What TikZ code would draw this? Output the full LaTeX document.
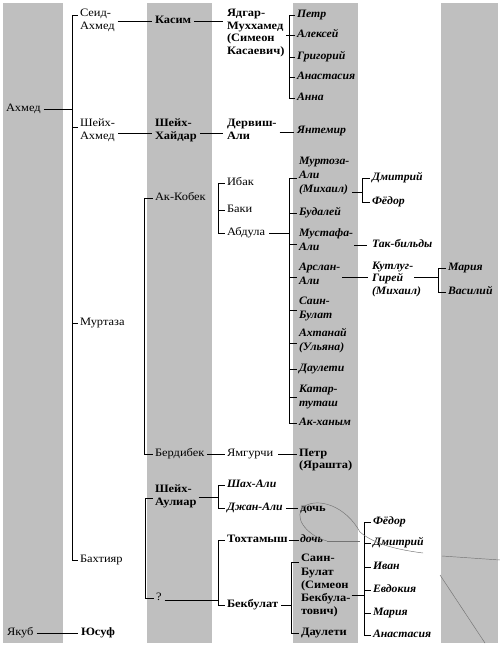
\documentclass[tikz,border=0pt]{standalone}
\usepackage{fontspec}
\setmainfont{Liberation Serif}[FakeStretch=1.1,BoldItalicFeatures={FakeStretch=1.04}]
\usetikzlibrary{calc}
\newcommand\brtick[3]{\draw[ln] ($(#1.west)+(-2.5,#3)$) -- ($(#1.west -| #2)+(0,#3)$);}
\newcommand\brpath[5]{\draw[ln] ($(#2.west)+(-2.5,#3)$) -- ($(#2.west -| #1)+(0,#3)$) -- ($(#4.west -| #1)+(0,#5)$) -- ($(#4.west)+(-2.5,#5)$);}
\begin{document}
\begin{tikzpicture}[x=1pt,y=-1pt,
  nm/.style={anchor=west, inner sep=0pt, outer sep=0pt, align=left,
    execute at begin node=\strut, execute at end node=\strut},
  rg/.style={nm, font=\fontsize{11.3}{12.6}\selectfont},
  bd/.style={nm, font=\fontsize{11.3}{12.6}\selectfont\bfseries},
  bdw/.style={nm, font=\fontsize{11.3}{13.2}\selectfont\bfseries},
  bi/.style={nm, font=\fontsize{11.3}{12.6}\selectfont\bfseries\itshape},
  biw/.style={nm, font=\fontsize{11.3}{14}\selectfont\bfseries\itshape},
  ln/.style={line width=1pt, black},
  stripe/.style={fill=black!25, draw=none},
  scanmark/.style={line width=0.45pt, black!55}]
\useasboundingbox (0,0) rectangle (500,646);
\fill[white] (0,0) rectangle (500,646);
% stripes
\fill[stripe] (3,3) rectangle (63,643);
\fill[stripe] (147,3) rectangle (212,643);
\fill[stripe] (293,3) rectangle (358,643);
\fill[stripe] (441,3) rectangle (498,643);

% column A
\node[rg] (ahm) at (6,109) {Ахмед};
\node[rg] (yak) at (7,633) {Якуб};
\node[bd] (yus) at (81,633) {Юсуф};
% column B
\node[rg] (sa) at (80,21) {Сеид-\\Ахмед};
\node[rg] (sha) at (80,131) {Шейх-\\Ахмед};
\node[rg] (mur) at (80,323) {Муртаза};
\node[rg] (bah) at (80,560) {Бахтияр};
% column C
\node[bd] (kas) at (155,21) {Касим};
\node[bd] (shh) at (155,131) {Шейх-\\Хайдар};
\node[rg] (akk) at (155,198) {Ак-Кобек};
\node[rg] (ber) at (155,454) {Бердибек};
\node[bd] (sau) at (155,497) {Шейх-\\Аулиар};
\node[rg] (q) at (156,598) {?};
% column D
\node[bd] (yad) at (227,33.5) {Ядгар-\\Муххамед\\(Симеон\\Касаевич)};
\node[bd] (der) at (227,131) {Дервиш-\\Али};
\node[rg] (iba) at (227,183) {Ибак};
\node[rg] (bak) at (227,210) {Баки};
\node[rg] (abd) at (227,233) {Абдула};
\node[rg] (yam) at (227,454) {Ямгурчи};
\node[bi] (shah) at (227,485) {Шах-Али};
\node[bi] (dja) at (227,508) {Джан-Али};
\node[bd] (tox) at (227,540) {Тохтамыш};
\node[bd] (bek) at (227,605) {Бекбулат};
% column E
\node[bi] (petr) at (297,15) {Петр};
\node[bi] (alek) at (297,35) {Алексей};
\node[bi] (grig) at (297,57) {Григорий};
\node[bi] (anas) at (297,77) {Анастасия};
\node[bi] (anna) at (297,98) {Анна};
\node[bi] (yan) at (297,131) {Янтемир};
\node[biw] (mura) at (299,177) {Муртоза-\\Али\\(Михаил)};
\node[bi] (bud) at (299,213) {Будалей};
\node[biw] (mus) at (299,242) {Мустафа-\\Али};
\node[biw] (ars) at (299,276) {Арслан-\\Али};
\node[biw] (sai) at (299,310) {Саин-\\Булат};
\node[biw] (axt) at (299,342) {Ахтанай\\(Ульяна)};
\node[bi] (dau) at (299,369) {Даулети};
\node[biw] (kat) at (299,398) {Катар-\\туташ};
\node[bi] (akh) at (299,423) {Ак-ханым};
\node[bd] (pya) at (299,460.5) {Петр\\(Ярашта)};
\node[bd] (doch1) at (300,509) {дочь};
\node[bi] (doch2) at (300,540) {дочь};
\node[bdw] (sbu) at (301,586.5) {Саин-\\Булат\\(Симеон\\Бекбула-\\тович)};
\node[bd] (dau2) at (301,633) {Даулети};
% column F
\node[bi] (dmi) at (372,178) {Дмитрий};
\node[bi] (fed) at (372,202) {Фёдор};
\node[bi] (tak) at (372,245) {Так-бильды};
\node[bi] (kut) at (372,280) {Кутлуг-\\Гирей\\(Михаил)};
\node[bi] (fed2) at (373,522) {Фёдор};
\node[bi] (dmi2) at (373,543) {Дмитрий};
\node[bi] (iva) at (373,567) {Иван};
\node[bi] (evd) at (373,590) {Евдокия};
\node[bi] (mar2) at (373,613) {Мария};
\node[bi] (ana2) at (373,635) {Анастасия};
% column G
\node[bi] (mar) at (448,268) {Мария};
\node[bi] (vas) at (448,292) {Василий};

% bracket positions
\coordinate (b1) at (72,0);
\coordinate (bY) at (289,0);
\coordinate (b2) at (144.5,0);
\coordinate (bA) at (218,0);
\coordinate (bAbd) at (289,0);
\coordinate (bM) at (362,0);
\coordinate (bK) at (438,0);
\coordinate (bBah) at (145,0);
\coordinate (bS) at (218,0);
\coordinate (bQ) at (218,0);
\coordinate (bB) at (291,0);
\coordinate (bSB) at (364,0);

% brackets
\brpath{b1}{sa}{-6}{bah}{0}
\brtick{sha}{b1}{-4}
\brtick{mur}{b1}{0}
\brpath{bY}{petr}{0}{anna}{0}
\brtick{alek}{bY}{0}
\brtick{grig}{bY}{0}
\brtick{anas}{bY}{0}
\brpath{b2}{akk}{0}{ber}{0}
\brpath{bA}{iba}{0}{abd}{0}
\brtick{bak}{bA}{0}
\brpath{bAbd}{mura}{1}{akh}{0}
\brtick{bud}{bAbd}{0}
\brtick{mus}{bAbd}{2}
\brtick{ars}{bAbd}{1}
\brtick{sai}{bAbd}{0}
\brtick{axt}{bAbd}{1}
\brtick{dau}{bAbd}{0}
\brtick{kat}{bAbd}{-1}
\brpath{bM}{dmi}{0}{fed}{0}
\brpath{bK}{mar}{0}{vas}{0}
\brpath{bBah}{sau}{1}{q}{0}
\brpath{bS}{shah}{0}{dja}{0}
\brpath{bQ}{tox}{0}{bek}{0}
\brpath{bB}{sbu}{-24.5}{dau2}{0}
\brpath{bSB}{fed2}{0}{ana2}{0}
\brtick{dmi2}{bSB}{0}
\brtick{iva}{bSB}{0}
\brtick{evd}{bSB}{0}
\brtick{mar2}{bSB}{0}

% connectors
\draw[ln] ($(ahm.east)+(3,0)$) -- (ahm.east -| b1);
\draw[ln] ($(yak.east)+(3,0)$) -- ($(yak.east -| yus.west)+(-3,0)$);
\draw[ln] ($(sa.east)+(3,0)$) -- ($(sa.east -| kas.west)+(-3,0)$);
\draw[ln] ($(kas.east)+(3,0)$) -- ($(kas.east -| yad.west)+(-4,0)$);
\coordinate (yadr) at ($(yad.east)+(2,1.5)$);
\draw[ln] (yadr) -- (yadr -| bY);
\draw[ln] ($(sha.east)+(3,2)$) -- ($(sha.east -| shh.west)+(-3,2)$);
\draw[ln] ($(shh.east)+(3,2)$) -- ($(shh.east -| der.west)+(-4,2)$);
\draw[ln] ($(der.east)+(3,1)$) -- ($(der.east -| yan.west)+(-3,1)$);
\draw[ln] ($(abd.east)+(4,0)$) -- (abd.east -| bAbd);
\coordinate (murar) at ($(mura.west)+(53,15)$);
\draw[ln] (murar) -- (murar -| bM);
\coordinate (musr) at ($(mus.west)+(55,3)$);
\draw[ln] (musr) -- ($(musr -| tak.west)+(-5,0)$);
\coordinate (arsr) at ($(ars.east)+(2,1)$);
\draw[ln] (arsr) -- ($(arsr -| kut.west)+(-4,0)$);
\coordinate (kutr) at ($(kut.west)+(42,-3)$);
\draw[ln] (kutr) -- (kutr -| bK);
\draw[ln] ($(ber.east)+(3,0)$) -- ($(ber.east -| yam.west)+(-2,0)$);
\draw[ln] ($(yam.east)+(5,0)$) -- ($(yam.east -| pya.west)+(-2,0)$);
\draw[ln] ($(sau.east)+(2,0)$) -- (sau.east -| bS);
\draw[ln] ($(dja.east)+(3,0)$) -- ($(dja.east -| doch1.west)+(-2,0)$);
\draw[ln] ($(q.east)+(3,2)$) -- ($(q.east -| bQ)+(0,2)$);
\draw[ln] ($(tox.east)+(1,0)$) -- ($(tox.east -| doch2.west)+(-1,0)$);
\draw[ln] ($(bek.east)+(3,0)$) -- (bek.east -| bB);
\coordinate (sbur) at ($(sbu.east)+(1,8.5)$);
\draw[ln] (sbur) -- (sbur -| bSB);

% pencil marks on the scan
\draw[scanmark] (327,541) .. controls (305,535) and (292,515) .. (305,506)
  .. controls (318,498) and (345,505) .. (360,532)
  .. controls (375,545) and (400,550) .. (423,553);
\draw[scanmark] (327,541) -- (360,541);
\draw[scanmark] (442,556) -- (500,560);
\draw[scanmark] (440,575) -- (485,643);
\end{tikzpicture}
\end{document}
